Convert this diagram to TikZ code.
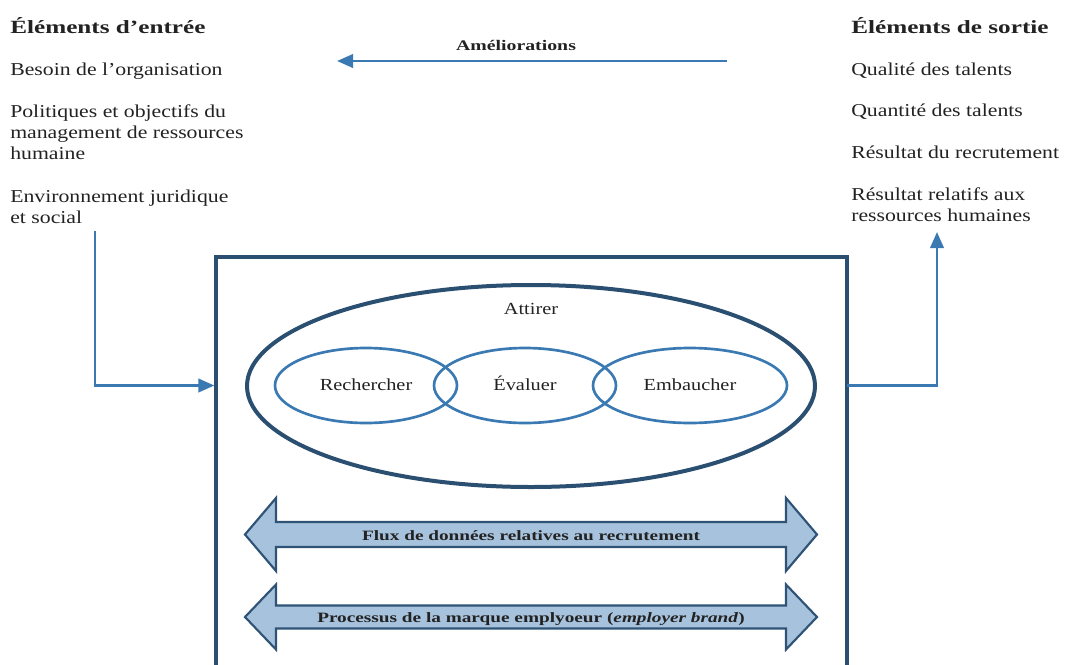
\documentclass[tikz,border=0pt]{standalone}
\usepackage{fontspec}
\setmainfont[FakeStretch=1.2]{Liberation Serif}
\newfontfamily\widefont[FakeStretch=1.35]{Liberation Serif}
\usetikzlibrary{shapes.geometric,arrows.meta}

\definecolor{ink}{HTML}{222222}
\definecolor{navy}{HTML}{2B4F71}
\definecolor{midblue}{HTML}{3B79B2}
\definecolor{bandfill}{HTML}{A7C2DC}
\definecolor{bandline}{HTML}{2E5376}

% outline of a horizontal two-headed band arrow: centre y, head half-height, shaft half-height
\newcommand\bandpath[3]{(245,#1) -- (276,#1-#2) -- (276,#1-#3) -- (786,#1-#3) -- (786,#1-#2)
  -- (817,#1) -- (786,#1+#2) -- (786,#1+#3) -- (276,#1+#3) -- (276,#1+#2) -- cycle}

\begin{document}
\begin{tikzpicture}[x=0.75pt,y=-0.75pt,
  body/.style={anchor=base west, inner sep=0pt, text=ink, font=\fontsize{13.6}{16}\selectfont},
  head/.style={anchor=base west, inner sep=0pt, text=ink, font=\widefont\bfseries\fontsize{14}{16}\selectfont},
  conn/.style={draw=midblue, line width=2pt},
  tip/.style={-{Triangle[length=12pt,width=10pt]}},
  procbox/.style={draw=navy, line width=3pt, outer sep=0pt, inner sep=0pt},
  bigell/.style={ellipse, draw=navy, line width=3pt, inner sep=0pt},
  smallell/.style={ellipse, draw=midblue, line width=2pt, inner sep=0pt,
    minimum height=56.25pt, text=ink, text height=0.7em, text depth=0pt,
    font=\fontsize{12.7}{15}\selectfont},
  inner/.style={inner sep=0pt, text=ink, font=\fontsize{12.7}{15}\selectfont},
  band/.style={fill=bandfill, draw=bandline, line width=1.6pt, line join=miter},
  bandtext/.style={anchor=base, inner sep=0pt, text=ink, font=\widefont\bfseries\fontsize{10.7}{13}\selectfont}
]
\useasboundingbox (0,0) rectangle (1067,664);

% input elements
\node[head] (inHead) at (10,33) {Éléments d’entrée};
\node[body] (in1)  at (10,75)  {Besoin de l’organisation};
\node[body] (in2a) at (10,117) {Politiques et objectifs du};
\node[body] (in2b) at (10,138) {management de ressources};
\node[body] (in2c) at (10,159) {humaine};
\node[body] (in3a) at (10,202) {Environnement juridique};
\node[body] (in3b) at (10,223) {et social};

% output elements
\node[head] (outHead) at (851,33) {Éléments de sortie};
\node[body] (out1)  at (851,75)  {Qualité des talents};
\node[body] (out2)  at (851,116) {Quantité des talents};
\node[body] (out3)  at (851,158) {Résultat du recrutement};
\node[body] (out4a) at (851,200) {Résultat relatifs aux};
\node[body] (out4b) at (851,221) {ressources humaines};

% feedback arrow
\node[inner sep=0pt, anchor=base, text=ink, font=\widefont\bfseries\fontsize{11}{13}\selectfont] (amel) at (516,50) {Améliorations};
\coordinate (fbStart) at (727,61);
\coordinate (fbEnd) at (337,61);
\draw[conn, tip] (fbStart) -- (fbEnd);

% recruitment process frame
\node[procbox, minimum width=473.25pt, minimum height=360pt, anchor=north] (proc) at (531.5,257) {};

% attract / search / evaluate / hire
\node[bigell, minimum width=426pt, minimum height=151.5pt] (attract) at (531,386) {};
\node[inner, anchor=base] (attractT) at (531,314) {Attirer};
\node[smallell, minimum width=136.5pt] (rech) at (366,385.5) {Rechercher};
\node[smallell, minimum width=136.5pt] (eval) at (525,385.5) {Évaluer};
\node[smallell, minimum width=145.5pt] (emb)  at (690,385.5) {Embaucher};

% data flow bands
\draw[band] \bandpath{534.5}{36.5}{12.5};
\node[bandtext] (flux) at (531,540) {Flux de données relatives au recrutement};
\draw[band] \bandpath{617}{32.5}{11.5};
\node[bandtext] (brand) at (531,622) {Processus de la marque emplyoeur (\textit{employer brand})};

% connectors into and out of the frame
\coordinate (inFoot) at (95,231);
\coordinate (outTop) at (937,232);
\draw[conn, tip, shorten >=1.2pt] (inFoot) |- (proc.west |- rech.center);
\draw[conn, tip] (proc.east |- emb.center) -| (outTop);
\end{tikzpicture}
\end{document}
